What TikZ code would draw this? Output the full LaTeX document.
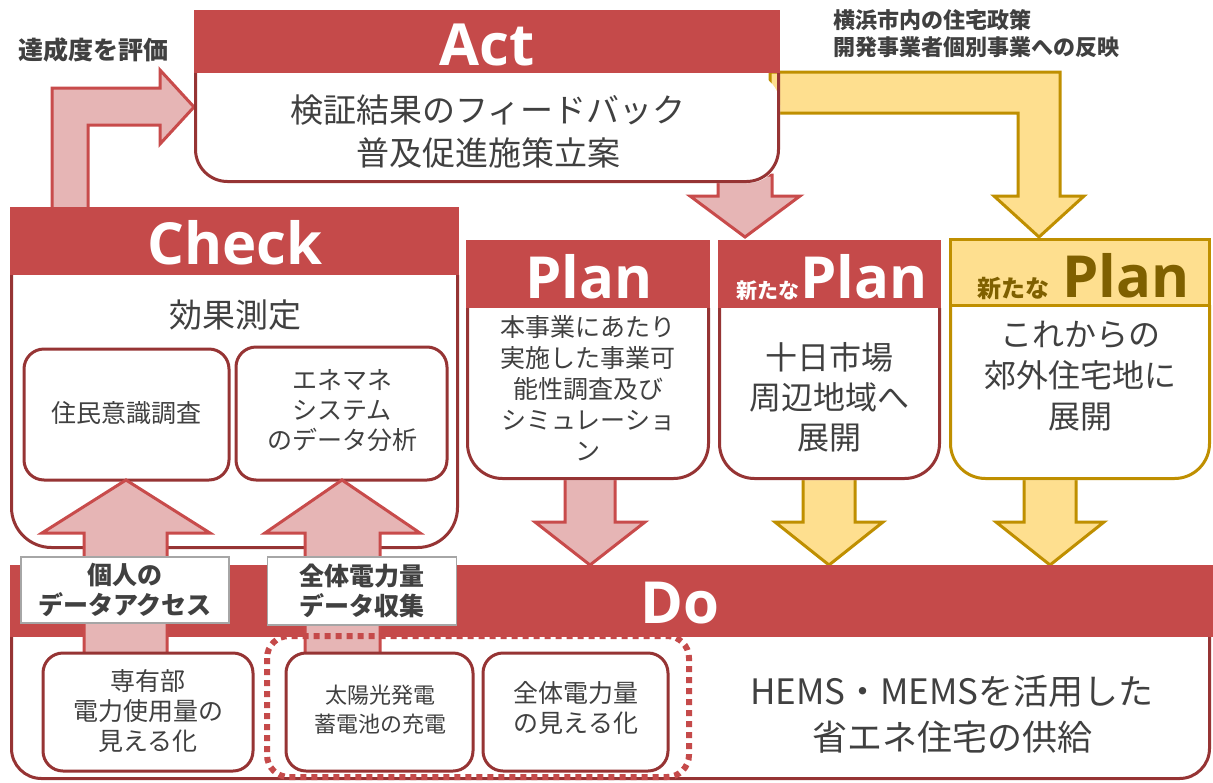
\documentclass[tikz,border=0pt]{standalone}
\usepackage{fontspec}
\setmainfont{Noto Sans CJK JP}
\newfontfamily\hdfont{Open Sans}
\definecolor{hred}{RGB}{197,74,74}
\definecolor{bord}{RGB}{150,52,52}
\definecolor{pinkfill}{RGB}{230,181,181}
\definecolor{pinkline}{RGB}{200,75,75}
\definecolor{yfill}{RGB}{254,223,143}
\definecolor{yline}{RGB}{191,143,0}
\definecolor{ytext}{RGB}{127,96,0}
\definecolor{tgray}{RGB}{64,64,64}
\definecolor{lgray}{RGB}{166,166,166}
\tikzset{
  txt/.style={text=tgray, align=center, inner sep=0pt},
  hd/.style={text=white, inner sep=0pt, font=\hdfont\bfseries\fontsize{58}{58}\selectfont},
  parrow/.style={fill=pinkfill, draw=pinkline, line width=3pt, line join=miter},
  yarrow/.style={fill=yfill, draw=yline, line width=3pt, line join=miter},
  subbox/.style={fill=white, draw=bord, line width=3pt, rounded corners=20pt},
  lbl/.style={fill=white, draw=lgray, line width=1.5pt, text=tgray, align=center, font=\bfseries\fontsize{25}{30}\selectfont},
}
\begin{document}
\begin{tikzpicture}[x=1pt,y=-1pt]
\useasboundingbox (0,0) rectangle (1213,782);
\fill[white] (0,0) rectangle (1213,782);

% arrows behind boxes
\draw[parrow] (52,210) -- (52,88) -- (160,88) -- (160,70) -- (194,107) -- (160,144) -- (160,125) -- (88,125) -- (88,210) -- cycle;
\draw[yarrow] (770,72) -- (1060,72) -- (1060,196) -- (1084,196) -- (1039,237) -- (994,196) -- (1018,196) -- (1018,113) -- (770,113) -- cycle;
\draw[parrow] (718,175) -- (718,196) -- (690,196) -- (745,237) -- (800,196) -- (772,196) -- (772,175) -- cycle;
\draw[parrow] (565,470) -- (565,522) -- (535,522) -- (590,565) -- (645,522) -- (615,522) -- (615,470) -- cycle;
\draw[yarrow] (803,470) -- (803,522) -- (775,522) -- (829,565) -- (883,522) -- (855,522) -- (855,470) -- cycle;
\draw[yarrow] (1024,470) -- (1024,522) -- (996,522) -- (1050,565) -- (1104,522) -- (1076,522) -- (1076,470) -- cycle;

% Act box
\fill[white, rounded corners=32pt] (194,73) -- (194,183) -- (780,183) -- (780,73) -- cycle;
\draw[bord, line width=3pt, rounded corners=32pt] (195.5,73) -- (195.5,181.5) -- (778.5,181.5) -- (778.5,73);
\fill[hred] (194,10) rectangle (780,73);
\node[hd] (act) at (487,45) {Act};
\node[txt, font=\fontsize{33}{43}\selectfont] (actbody) at (488,131) {検証結果のフィードバック\\普及促進施策立案};

% labels at top
\node[txt, font=\bfseries\fontsize{25}{25}\selectfont] (eval) at (94,50) {達成度を評価};
\node[txt, anchor=north west, align=left, font=\bfseries\fontsize{22}{27}\selectfont] (policy) at (833,9) {横浜市内の住宅政策\\開発事業者個別事業への反映};

% Check box
\fill[white, rounded corners=40pt] (10,275) -- (10,549) -- (459,549) -- (459,275) -- cycle;
\draw[bord, line width=3pt, rounded corners=40pt] (11.5,275) -- (11.5,547.5) -- (457.5,547.5) -- (457.5,275);
\fill[hred] (10,207) rectangle (459,275);
\node[hd] (check) at (235,243) {Check};
\node[txt, font=\fontsize{33}{33}\selectfont] (kouka) at (235,315) {効果測定};
\draw[subbox] (24,349) rectangle (229,480);
\node[txt, font=\fontsize{25}{30}\selectfont] (jumin) at (126,413) {住民意識調査};
\draw[subbox] (236,347) rectangle (447,480);
\node[txt, font=\fontsize{25}{30}\selectfont] (enemane) at (342,411) {エネマネ\\システム\\のデータ分析};

% Plan 1
\fill[white, rounded corners=35pt] (466,308) -- (466,480) -- (710,480) -- (710,308) -- cycle;
\draw[bord, line width=3pt, rounded corners=35pt] (467.5,308) -- (467.5,478.5) -- (708.5,478.5) -- (708.5,308);
\fill[hred] (466,240) rectangle (710,308);
\node[hd] (plan1) at (589,277) {Plan};
\node[txt, font=\fontsize{25}{31}\selectfont] (plan1body) at (588,388) {本事業にあたり\\実施した事業可\\能性調査及び\\シミュレーショ\\ン};

% Plan 2
\fill[white, rounded corners=35pt] (718,308) -- (718,480) -- (941,480) -- (941,308) -- cycle;
\draw[bord, line width=3pt, rounded corners=35pt] (719.5,308) -- (719.5,478.5) -- (939.5,478.5) -- (939.5,308);
\fill[hred] (718,240) rectangle (941,308);
\node[hd, anchor=base west] (plan2) at (800,298) {Plan};
\node[anchor=base east, inner sep=0pt, text=white, font=\bfseries\fontsize{21}{21}\selectfont] (arata2) at (plan2.base west) {新たな};
\node[txt, font=\fontsize{32}{40}\selectfont] (plan2body) at (829,397) {十日市場\\周辺地域へ\\展開};

% Plan 3
\fill[white, rounded corners=35pt] (949,305) -- (949,480) -- (1211,480) -- (1211,305) -- cycle;
\draw[yline, line width=3pt, rounded corners=35pt] (950.5,305) -- (950.5,478.5) -- (1209.5,478.5) -- (1209.5,305);
\draw[fill=yfill, draw=yline, line width=3pt] (950.5,239.5) rectangle (1209.5,305);
\node[hd, text=ytext, anchor=base west] (plan3) at (1062,297) {Plan};
\node[anchor=base east, inner sep=0pt, text=ytext, font=\bfseries\fontsize{24}{24}\selectfont] (arata3) at ([xshift=-12pt]plan3.base west) {新たな};
\node[txt, font=\fontsize{32}{41}\selectfont] (plan3body) at (1080,376) {これからの\\郊外住宅地に\\展開};

% Do box
\fill[white, rounded corners=30pt] (10,637) -- (10,780) -- (1211,780) -- (1211,637) -- cycle;
\draw[bord, line width=3pt, rounded corners=30pt] (11.5,637) -- (11.5,778.5) -- (1209.5,778.5) -- (1209.5,637);
\fill[hred] (10,565) rectangle (1213,637);
\node[hd] (do) at (680,603) {Do};
\node[txt, font=\fontsize{35}{46}\selectfont] (hems) at (952,714) {HEMS・MEMSを活用した\\省エネ住宅の供給};

% up arrows
\draw[parrow] (84,655) -- (84,533) -- (42,533) -- (126,480) -- (210,533) -- (167,533) -- (167,655) -- cycle;
\draw[parrow] (305,655) -- (305,533) -- (265,533) -- (342,480) -- (420,533) -- (380,533) -- (380,655) -- cycle;

% label boxes
\node[lbl, minimum width=208pt, minimum height=66pt] (kojin) at (125,590) {個人の\\データアクセス};
\node[lbl, minimum width=189pt, minimum height=68pt] (zentai) at (362,591) {全体電力量\\データ収集};

% Do sub boxes
\draw[subbox] (43,653) rectangle (253,771);
\node[txt, font=\fontsize{25}{30}\selectfont] (senyu) at (148,711) {専有部\\電力使用量の\\見える化};
\draw[subbox] (286,653) rectangle (473,771);
\node[txt, font=\fontsize{22}{29}\selectfont] (taiyo) at (380,710) {太陽光発電\\蓄電池の充電};
\draw[subbox] (483,653) rectangle (668,771);
\node[txt, font=\fontsize{25}{30}\selectfont] (mieru) at (576,708) {全体電力量\\の見える化};
\draw[hred, line width=6pt, dash pattern=on 6pt off 5pt, rounded corners=22pt] (267,636) rectangle (689,777);
\end{tikzpicture}
\end{document}
